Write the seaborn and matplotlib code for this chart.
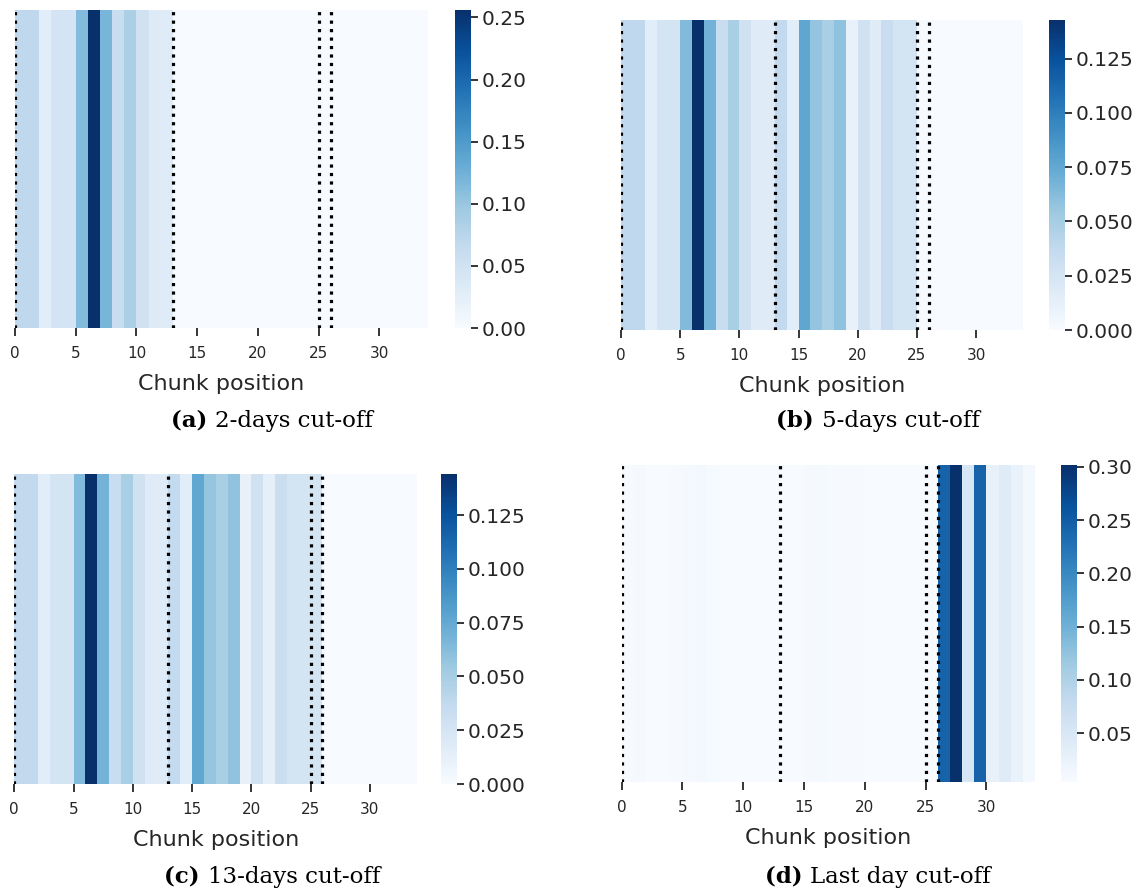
import numpy as np
import matplotlib
matplotlib.use("Agg")
import matplotlib.pyplot as plt
import seaborn as sns

# ---- data: attention weight per chunk position (34 chunks) ----
positions = list(range(34))
tick_positions = [0, 5, 10, 15, 20, 25, 30]
tick_labels = ["0", "5", "10", "15", "20", "25", "30"]
boundaries = [0, 13, 25, 26]

vals_2days = [0.069, 0.069, 0.028, 0.045, 0.045, 0.113, 0.256, 0.120, 0.060, 0.085,
              0.050, 0.032, 0.030, 0.0, 0.0, 0.0, 0.0, 0.0, 0.0, 0.0,
              0.0, 0.0, 0.0, 0.0, 0.0, 0.0, 0.0, 0.0, 0.0, 0.0,
              0.0, 0.0, 0.0, 0.0]
vals_5days = [0.039, 0.039, 0.016, 0.026, 0.026, 0.064, 0.143, 0.069, 0.034, 0.049,
              0.029, 0.017, 0.017, 0.037, 0.016, 0.077, 0.057, 0.049, 0.059, 0.011,
              0.029, 0.017, 0.033, 0.026, 0.026, 0.001, 0.0, 0.0, 0.0, 0.0,
              0.0, 0.0, 0.0, 0.0]
vals_13days = [0.038, 0.038, 0.016, 0.026, 0.026, 0.064, 0.144, 0.069, 0.034, 0.049,
               0.029, 0.017, 0.017, 0.037, 0.016, 0.077, 0.057, 0.049, 0.059, 0.011,
               0.029, 0.014, 0.033, 0.026, 0.026, 0.026, 0.0, 0.0, 0.0, 0.0,
               0.0, 0.0, 0.0, 0.0]
vals_lastday = [0.006, 0.008, 0.005, 0.005, 0.006, 0.008, 0.012, 0.007, 0.005, 0.005,
                0.005, 0.005, 0.005, 0.004, 0.005, 0.008, 0.009, 0.006, 0.006, 0.006,
                0.005, 0.005, 0.005, 0.005, 0.005, 0.004, 0.243, 0.302, 0.054, 0.243,
                0.027, 0.040, 0.025, 0.012]

panels = [
    ("(a)", "2-days cut-off", vals_2days),
    ("(b)", "5-days cut-off", vals_5days),
    ("(c)", "13-days cut-off", vals_13days),
    ("(d)", "Last day cut-off", vals_lastday),
]

W, H = 1147, 890
sns.set_theme(style="white")
plt.rcParams['font.family'] = ['DejaVu Sans']
fig = plt.figure(figsize=(W / 100, H / 100), dpi=100)

def frac(l, t, r, b):
    return [l / W, (H - b) / H, (r - l) / W, (b - t) / H]

# pixel boxes: heatmap (l,t,r,b), colorbar (l,t,r,b), caption center (x,y)
layout = [
    ((15, 10, 428, 328), (455, 10, 471, 328), (272, 421)),
    ((621, 19.5, 1023.5, 330), (1048.5, 19.5, 1064.5, 330), (878, 421)),
    ((14.3, 474.3, 417.3, 784), (441, 474.3, 457, 784), (272, 877)),
    ((621.7, 464.7, 1035, 782), (1060.7, 464.7, 1076.7, 782), (878, 877)),
]

txtcol = "#262626"
captions = []
for (bold, rest, vals), (hbox, cbox, cap) in zip(panels, layout):
    ax = fig.add_axes(frac(*hbox))
    cax = fig.add_axes(frac(*cbox))
    data = np.array([vals])
    sns.heatmap(data, ax=ax, cbar_ax=cax, cmap="Blues", xticklabels=False,
                yticklabels=False)
    ax.set_xticks(tick_positions)
    ax.set_xticklabels(tick_labels)
    ax.tick_params(axis="x", bottom=True, length=6, width=1.1, pad=7,
                   labelsize=11, labelcolor=txtcol, color="black")
    ax.set_xlabel("Chunk position", fontsize=16, color=txtcol, labelpad=9)
    for b in boundaries:
        ax.axvline(b, color="black", linestyle=":", linewidth=2.3)
    cax.tick_params(length=5, width=1.1, labelsize=14.5, labelcolor=txtcol,
                    color="black", pad=3)
    captions.append((bold, rest, cap))

fig.canvas.draw()
renderer = fig.canvas.get_renderer()
for bold, rest, (cx, cy) in captions:
    t1 = fig.text(0, 0, bold + " ", family="DejaVu Serif", fontweight="bold",
                  fontsize=16.5, color="black", va="center")
    t2 = fig.text(0, 0, rest, family="DejaVu Serif", fontsize=16.5,
                  color="black", va="center")
    w1 = t1.get_window_extent(renderer).width
    w2 = t2.get_window_extent(renderer).width
    x0 = cx - (w1 + w2) / 2
    t1.set_position((x0 / W, (H - cy) / H))
    t2.set_position(((x0 + w1) / W, (H - cy) / H))

fig.savefig("out.png", dpi=100)
